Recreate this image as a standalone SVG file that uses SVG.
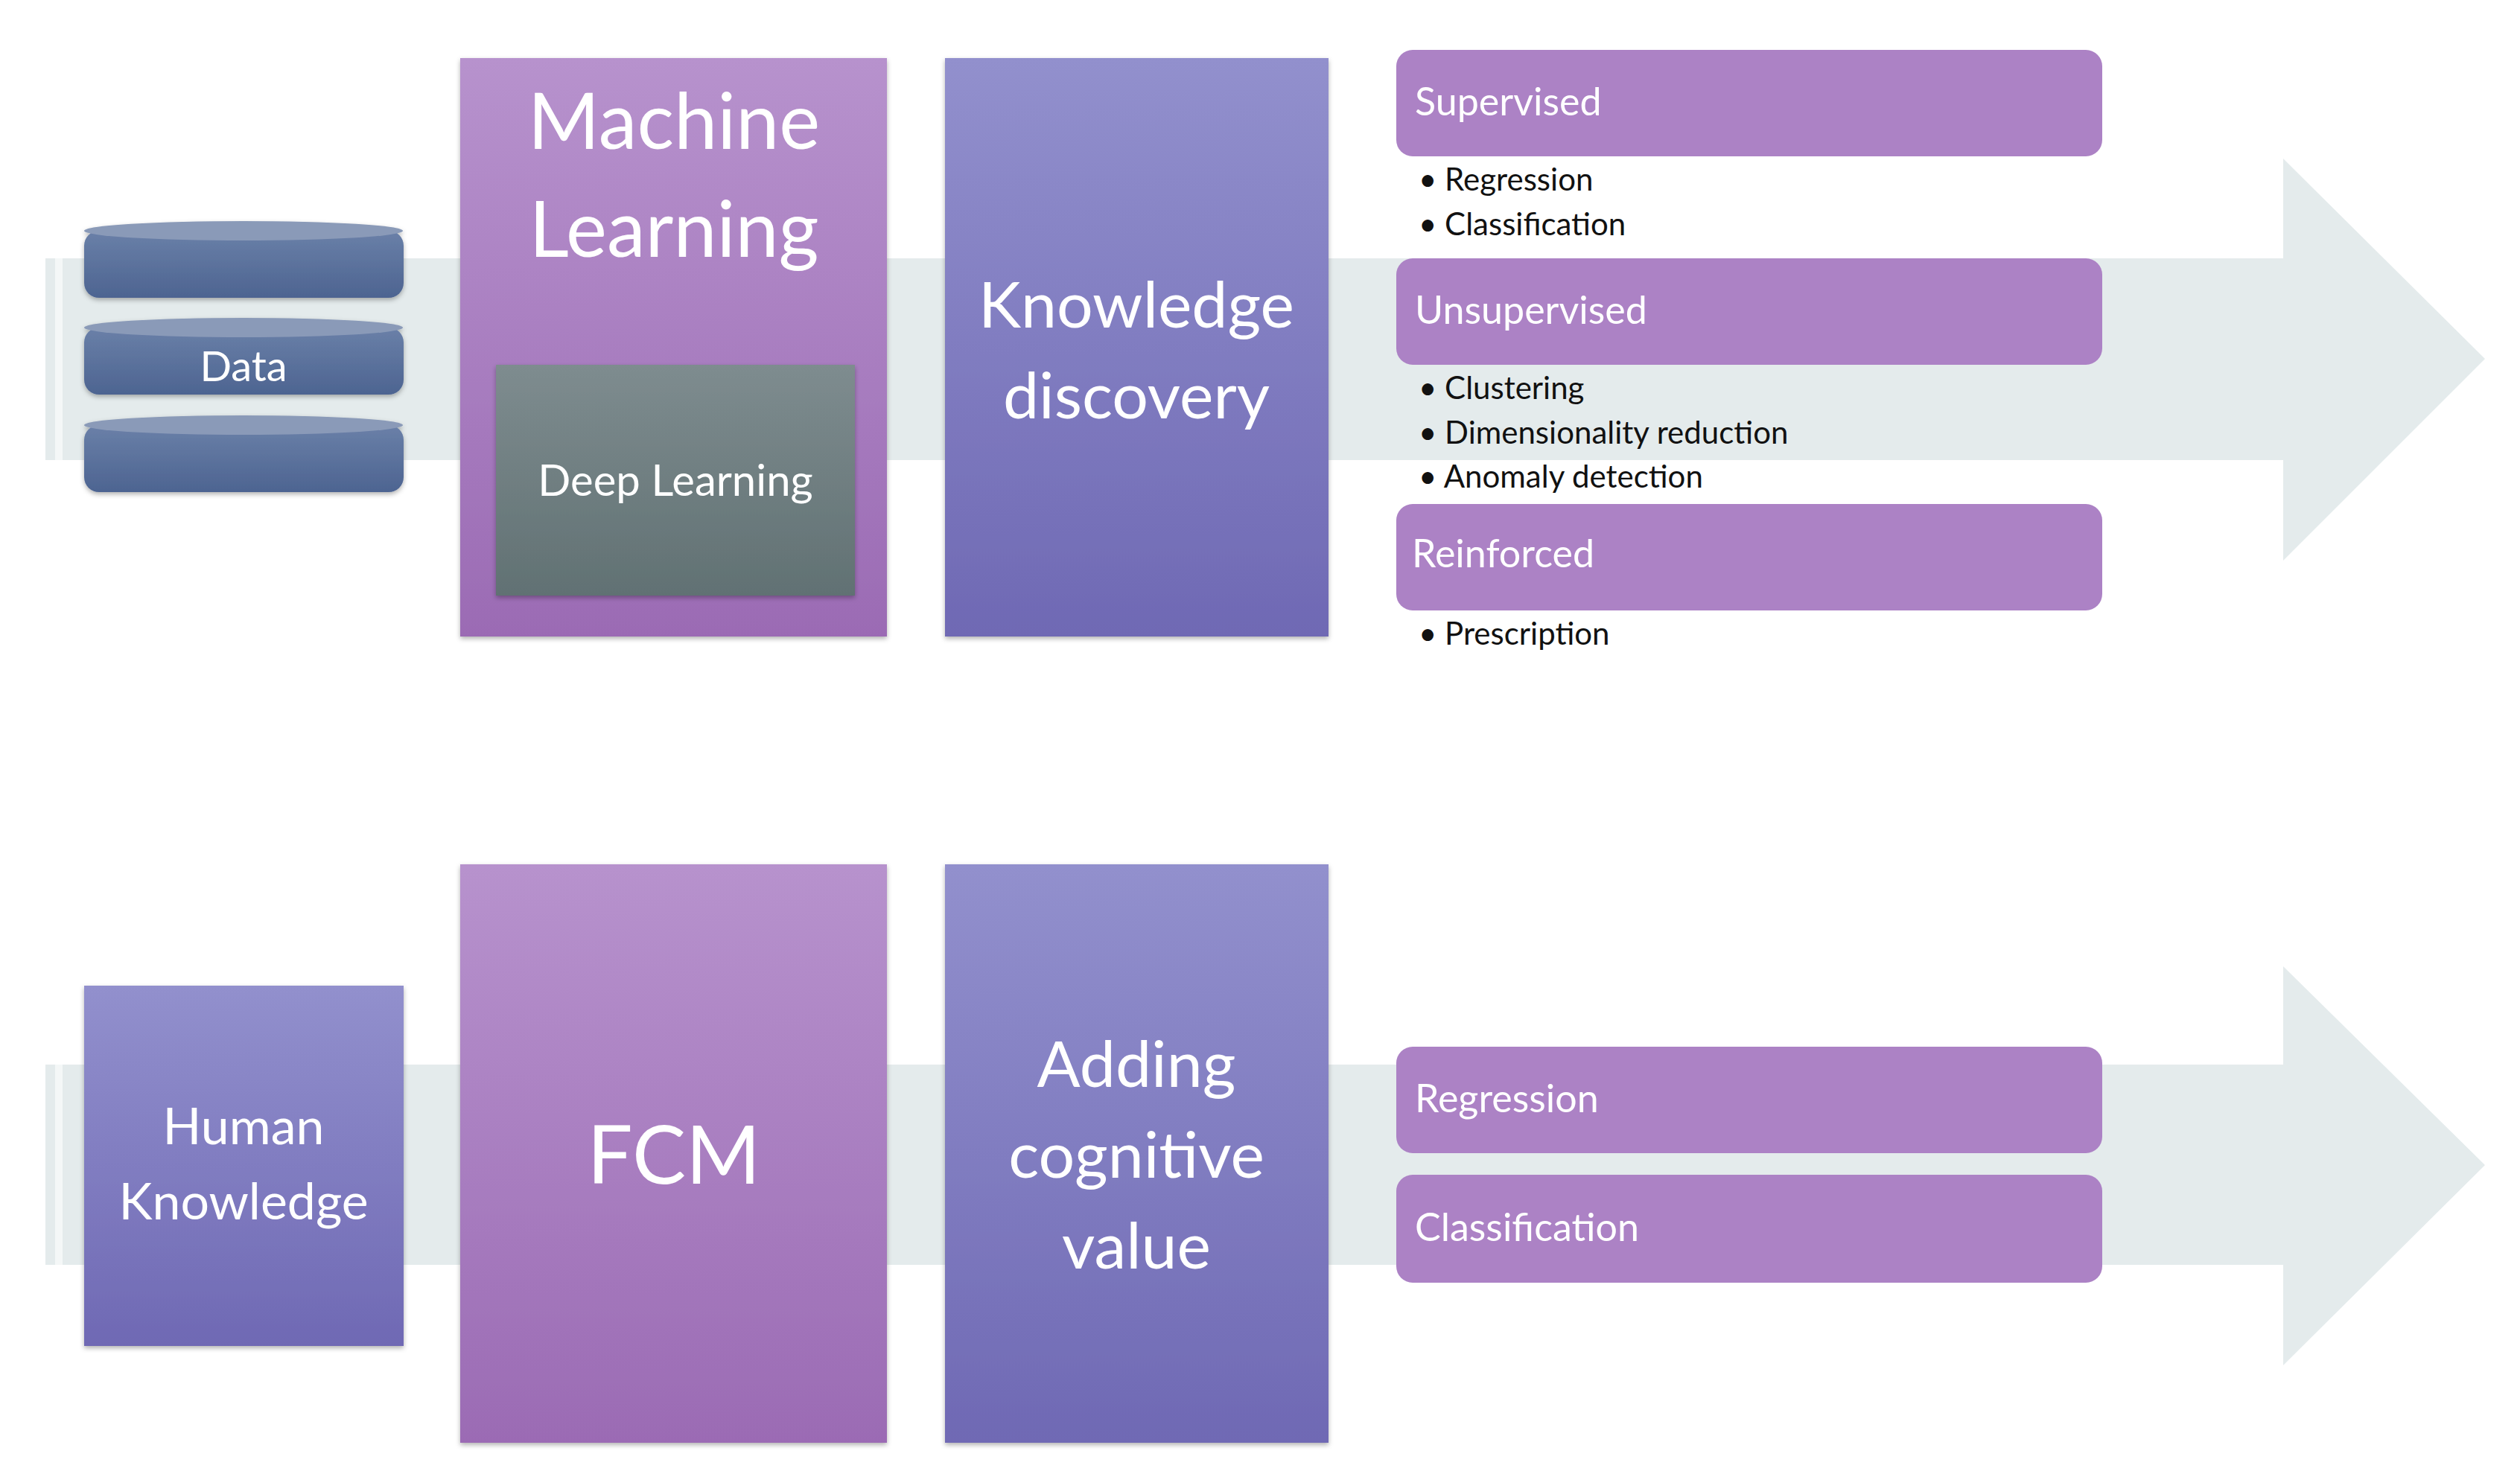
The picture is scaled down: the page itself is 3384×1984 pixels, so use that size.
<svg xmlns="http://www.w3.org/2000/svg" width="3384" height="1984" viewBox="0 0 3384 1984">
<defs>
<linearGradient id="gp" x1="0" y1="0" x2="0" y2="1"><stop offset="0" stop-color="#b792cd"/><stop offset="1" stop-color="#9b6bb4"/></linearGradient>
<linearGradient id="gb" x1="0" y1="0" x2="0" y2="1"><stop offset="0" stop-color="#9290cd"/><stop offset="1" stop-color="#6f69b4"/></linearGradient>
<linearGradient id="gg" x1="0" y1="0" x2="0" y2="1"><stop offset="0" stop-color="#7e8c8f"/><stop offset="1" stop-color="#617173"/></linearGradient>
<linearGradient id="gc" x1="0" y1="0" x2="0" y2="1"><stop offset="0" stop-color="#6a80a8"/><stop offset="1" stop-color="#4d6491"/></linearGradient>
<filter id="sh" x="-5%" y="-5%" width="110%" height="110%"><feDropShadow dx="0" dy="3" stdDeviation="3" flood-color="#000" flood-opacity="0.3"/></filter>
</defs>
<style>
text{font-family:Lato,"Open Sans",sans-serif;}
.w{fill:#fff;text-anchor:middle;}
.lb{fill:#fff;font-size:52px;}
.bl{fill:#111;font-size:42px;}
.band{fill:#e4ebec;}
.cat{fill:#ac82c5;}
</style>
<rect width="3384" height="1984" fill="#fff"/>
<g id="arrows">
<polygon class="band" points="61,347 3066,347 3066,213 3337,482 3066,753 3066,618 61,618"/>
<rect x="74" y="347" width="10" height="271" fill="#fff" opacity="0.6"/>
<polygon class="band" points="61,1430 3066,1430 3066,1298 3337,1565 3066,1834 3066,1699 61,1699"/>
<rect x="74" y="1430" width="10" height="269" fill="#fff" opacity="0.6"/>
</g>
<g id="data" filter="url(#sh)">
<rect x="113" y="310" width="429" height="90" rx="20" fill="url(#gc)"/><ellipse cx="327" cy="310" rx="214" ry="13" fill="#8a9ab8"/>
<rect x="113" y="440" width="429" height="90" rx="20" fill="url(#gc)"/><ellipse cx="327" cy="440" rx="214" ry="13" fill="#8a9ab8"/>
<rect x="113" y="571" width="429" height="90" rx="20" fill="url(#gc)"/><ellipse cx="327" cy="571" rx="214" ry="13" fill="#8a9ab8"/>
<text class="w" x="327" y="512" font-size="56">Data</text>
</g>
<g id="ml" filter="url(#sh)">
<rect x="618" y="78" width="573" height="777" fill="url(#gp)"/>
<text class="w" x="905" y="200" font-size="104">Machine</text>
<text class="w" x="905" y="345" font-size="104">Learning</text>
</g>
<g id="dl" filter="url(#sh)">
<rect x="666" y="490" width="482" height="310" fill="url(#gg)"/>
<text class="w" x="907" y="666" font-size="58">Deep Learning</text>
</g>
<g id="kd" filter="url(#sh)">
<rect x="1269" y="78" width="515" height="777" fill="url(#gb)"/>
<text class="w" x="1526" y="440" font-size="86">Knowledge</text>
<text class="w" x="1526" y="562" font-size="86">discovery</text>
</g>
<g id="supervised">
<rect class="cat" x="1875" y="67" width="948" height="143" rx="22"/>
<text class="lb" x="1900" y="155">Supervised</text>
<text class="bl" x="1905" y="256">• Regression</text>
<text class="bl" x="1905" y="316">• Classification</text>
</g>
<g id="unsupervised">
<rect class="cat" x="1875" y="347" width="948" height="143" rx="22"/>
<text class="lb" x="1900" y="435">Unsupervised</text>
<text class="bl" x="1905" y="536">• Clustering</text>
<text class="bl" x="1905" y="596">• Dimensionality reduction</text>
<text class="bl" x="1905" y="655">• Anomaly detection</text>
</g>
<g id="reinforced">
<rect class="cat" x="1875" y="677" width="948" height="143" rx="22"/>
<text class="lb" x="1896" y="762" font-size="42">Reinforced</text>
<text class="bl" x="1905" y="866">• Prescription</text>
</g>
<g id="hk" filter="url(#sh)">
<rect x="113" y="1324" width="429" height="484" fill="url(#gb)"/>
<text class="w" x="327" y="1537" font-size="68">Human</text>
<text class="w" x="327" y="1638" font-size="68">Knowledge</text>
</g>
<g id="fcm" filter="url(#sh)">
<rect x="618" y="1161" width="573" height="777" fill="url(#gp)"/>
<text class="w" x="905" y="1590" font-size="108">FCM</text>
</g>
<g id="acv" filter="url(#sh)">
<rect x="1269" y="1161" width="515" height="777" fill="url(#gb)"/>
<text class="w" x="1526" y="1460" font-size="86">Adding</text>
<text class="w" x="1526" y="1582" font-size="86">cognitive</text>
<text class="w" x="1526" y="1704" font-size="86">value</text>
</g>
<g id="regression"><rect class="cat" x="1875" y="1406" width="948" height="143" rx="22"/><text class="lb" x="1900" y="1494">Regression</text></g>
<g id="classification"><rect class="cat" x="1875" y="1578" width="948" height="145" rx="22"/><text class="lb" x="1900" y="1667">Classification</text></g>
</svg>
